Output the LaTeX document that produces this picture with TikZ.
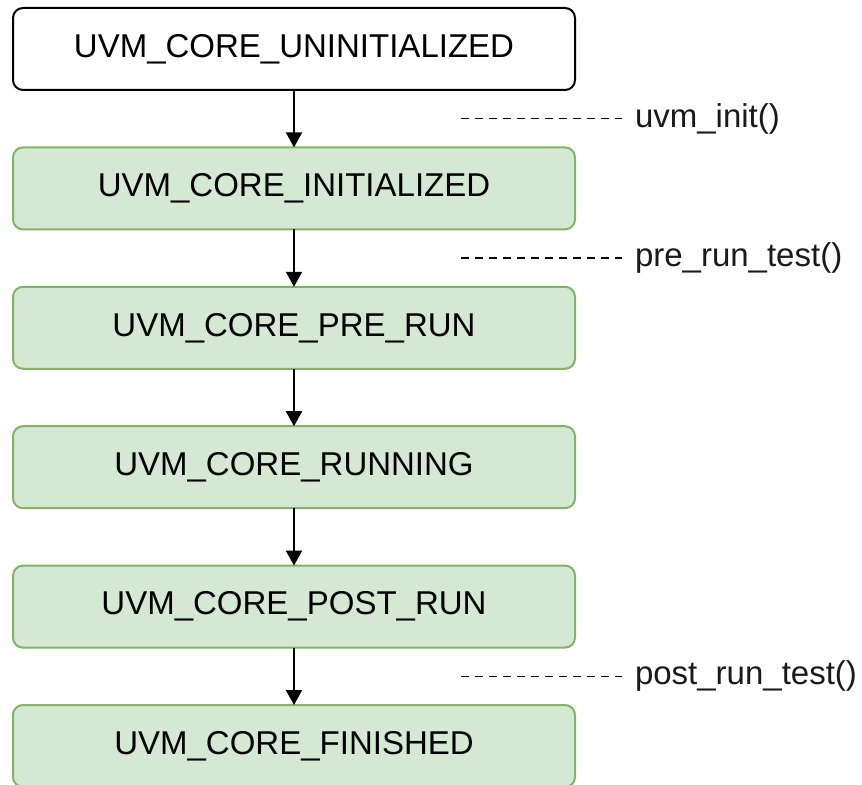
\documentclass[tikz,border=0pt]{standalone}
\usepackage{fontspec}
\setmainfont{Liberation Sans}
\usetikzlibrary{arrows.meta,positioning,calc}

\definecolor{stategreen}{HTML}{D5E8D4}
\definecolor{stateedge}{HTML}{82B366}
\definecolor{labelgray}{HTML}{1A1A1A}

\begin{document}
\begin{tikzpicture}[node distance=28.7pt,
            every node/.style={font=\fontsize{16.5}{19}\selectfont},
            state/.style={draw, line width=1pt, rounded corners=5pt, minimum width=281pt,
                          minimum height=41pt, inner sep=0pt, outer sep=0pt},
            done/.style={state, draw=stateedge, fill=stategreen},
            call/.style={inner sep=3pt, outer sep=0pt, text=labelgray, anchor=west},
            every path/.style={line width=1pt},
            flow/.style={-{Triangle[width=8pt,length=7.5pt]}}]
        \useasboundingbox (0,0) rectangle (431pt,-392.5pt);

        \node[state] (s0) at (147pt,-24.5pt) {UVM\_CORE\_UNINITIALIZED};
        \node[done, below=of s0] (s1) {UVM\_CORE\_INITIALIZED};
        \node[done, below=of s1] (s2) {UVM\_CORE\_PRE\_RUN};
        \node[done, below=of s2] (s3) {UVM\_CORE\_RUNNING};
        \node[done, below=of s3] (s4) {UVM\_CORE\_POST\_RUN};
        \node[done, below=of s4] (s5) {UVM\_CORE\_FINISHED};

        \foreach \a/\b in {s0/s1, s1/s2, s2/s3, s3/s4, s4/s5}
            \draw[flow] (\a) -- (\b);

        % hooks between the states
        \foreach \a/\b/\hook/\txt in {s0/s1/h1/uvm\_init(), s1/s2/h2/pre\_run\_test(), s4/s5/h3/post\_run\_test()} {
            \coordinate (\hook) at ($(\a.south)!0.5!(\b.north) + (83.5pt,0)$);
            \node[call] (\hook l) at ($(\hook) + (84pt,0)$) {\txt};
            \draw[line width=0.8pt, dash pattern=on 4pt off 3pt, shorten >=3.5pt] (\hook) -- (\hook l.west);
        }
\end{tikzpicture}
\end{document}
